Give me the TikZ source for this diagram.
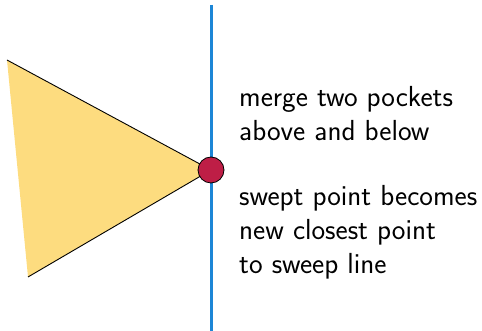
\documentclass[tikz,border=0pt]{standalone}
\usepackage{fontspec}
\definecolor{pocketfill}{RGB}{253,220,127}
\definecolor{sweepblue}{RGB}{28,134,214}
\definecolor{sitered}{RGB}{190,30,70}
\begin{document}
\begin{tikzpicture}[x=1pt,y=1pt,
  note/.style={align=left,inner sep=0pt,anchor=base west,font=\sffamily\fontsize{29}{34}\selectfont},
  site/.style={circle,fill=sitered,draw=black,line width=0.8pt,minimum size=26pt,inner sep=0pt}]
  \useasboundingbox (0,0) rectangle (482,331);
  % pocket: filled triangle, only the two edges meeting at the site are stroked
  \coordinate (top) at (7,271);
  \coordinate (bot) at (28,54);
  \coordinate (apex) at (211,161);
  \fill[pocketfill] (top) -- (apex) -- (bot) -- cycle;
  \draw[line width=0.9pt] (top) -- (apex) -- (bot);
  % sweep line
  \coordinate (lineTop) at (211,326);
  \coordinate (lineBot) at (211,0);
  \draw[sweepblue,line width=3pt] (lineTop) -- (lineBot);
  % swept site
  \node[site] (s) at (apex) {};
  % annotations (anchored at the baseline of their last line)
  \node[note] (merge) at (239,190) {merge two pockets\\above and below};
  \node[note] (swept) at (239,57) {swept point becomes\\new closest point\\to sweep line};
\end{tikzpicture}
\end{document}
